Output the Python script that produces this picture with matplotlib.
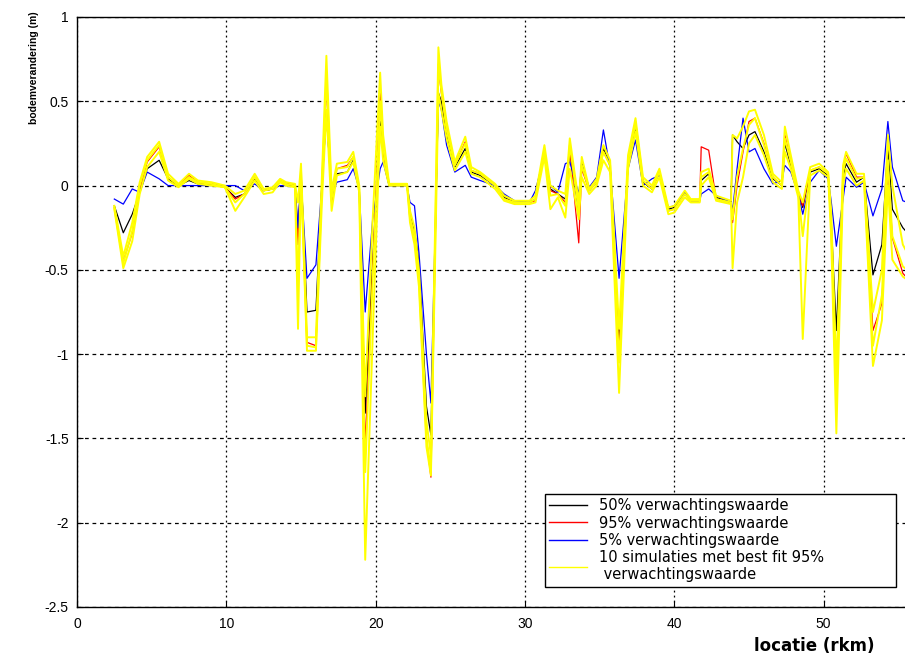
import matplotlib
matplotlib.use("Agg")
import matplotlib.pyplot as plt
from matplotlib.lines import Line2D

plt.rcParams['font.family'] = ['Liberation Sans', 'DejaVu Sans']

# river location (km)
rkm = [2.5, 3.1, 3.7, 4.2, 4.7, 5.5, 6.1, 6.8, 7.5, 8.1,
       9.0, 9.9, 10.6, 11.2, 11.9, 12.5, 13.1, 13.6, 14.0, 14.6,
       14.8, 15.0, 15.4, 16.0, 16.4, 16.7, 17.05, 17.4, 18.1, 18.5,
       18.9, 19.3, 19.8, 20.3, 20.5, 20.9, 22.1, 22.3, 22.6, 22.9,
       23.4, 23.7, 24.2, 24.4, 24.75, 25.3, 26.0, 26.4, 27.0, 28.0,
       28.6, 29.3, 30.3, 30.7, 31.3, 31.7, 32.2, 32.7, 33.0, 33.6,
       33.8, 34.3, 34.8, 35.25, 35.7, 36.3, 36.9, 37.4, 37.9, 38.5,
       39.0, 39.6, 40.0, 40.7, 41.1, 41.7, 41.8, 42.3, 42.8, 43.8,
       43.9, 44.2, 44.6, 45.0, 45.4, 46.0, 46.6, 47.2, 47.4, 47.8,
       48.3, 48.6, 49.1, 49.7, 50.3, 50.5, 50.85, 51.3, 51.5, 52.2,
       52.7, 53.3, 53.9, 54.3, 54.6, 55.3, 55.6]

# bed level change (m), 50% expectation
p50 = [-0.12, -0.28, -0.17, -0.04, 0.10, 0.15, 0.04, 0.00, 0.03, 0.01,
       0.01, -0.01, -0.07, -0.05, 0.04, -0.03, -0.02, 0.03, 0.01, 0.00,
       -0.30, 0.08, -0.75, -0.74, 0.00, 0.43, -0.05, 0.07, 0.08, 0.15,
       -0.02, -1.35, -0.45, 0.38, 0.20, 0.00, 0.00, -0.16, -0.27, -0.45,
       -1.31, -1.48, 0.55, 0.50, 0.30, 0.11, 0.22, 0.08, 0.06, 0.00,
       -0.07, -0.10, -0.10, -0.08, 0.20, -0.02, -0.05, -0.08, 0.20, -0.15,
       0.15, -0.03, 0.02, 0.22, 0.12, -0.93, 0.14, 0.35, 0.02, -0.02,
       0.08, -0.14, -0.13, -0.05, -0.09, -0.09, 0.03, 0.07, -0.07, -0.10,
       0.30, 0.26, 0.22, 0.30, 0.32, 0.20, 0.04, 0.00, 0.25, 0.12,
       -0.04, -0.13, 0.08, 0.10, 0.06, -0.20, -0.86, 0.05, 0.13, 0.02,
       0.05, -0.53, -0.35, 0.24, -0.14, -0.25, -0.28]

# 95% expectation
p95 = [-0.13, -0.45, -0.28, -0.02, 0.14, 0.23, 0.05, 0.00, 0.06, 0.02,
       0.01, -0.01, -0.08, -0.05, 0.05, -0.03, -0.02, 0.03, 0.015, 0.00,
       -0.35, 0.10, -0.93, -0.95, 0.02, 0.60, -0.10, 0.10, 0.12, 0.17,
       -0.02, -1.55, -0.50, 0.55, 0.20, 0.01, 0.01, -0.20, -0.30, -0.55,
       -1.50, -1.73, 0.70, 0.55, 0.34, 0.12, 0.26, 0.09, 0.07, 0.00,
       -0.08, -0.10, -0.10, -0.09, 0.22, -0.03, -0.05, -0.10, 0.22, -0.34,
       0.10, -0.03, 0.02, 0.20, 0.12, -1.00, 0.15, 0.38, 0.03, -0.02,
       0.08, -0.15, -0.14, -0.05, -0.09, -0.09, 0.23, 0.21, -0.08, -0.10,
       -0.22, 0.00, 0.20, 0.38, 0.40, 0.25, 0.05, 0.00, 0.30, 0.14,
       -0.05, -0.12, 0.09, 0.11, 0.07, -0.25, -1.30, 0.10, 0.19, 0.05,
       0.05, -0.86, -0.70, 0.11, -0.31, -0.52, -0.55]

# 5% expectation
p05 = [-0.08, -0.11, -0.02, -0.04, 0.08, 0.04, 0.00, 0.00, 0.00, 0.00,
       0.00, 0.00, 0.00, -0.03, 0.01, -0.03, -0.02, 0.00, 0.00, 0.00,
       -0.25, 0.04, -0.55, -0.47, 0.00, 0.43, -0.06, 0.02, 0.035, 0.10,
       -0.02, -0.75, -0.20, 0.10, 0.14, 0.00, 0.00, -0.10, -0.12, -0.40,
       -1.00, -1.29, 0.50, 0.45, 0.24, 0.08, 0.12, 0.05, 0.03, 0.00,
       -0.05, -0.09, -0.10, -0.03, 0.18, 0.00, -0.04, 0.13, 0.14, -0.05,
       0.12, -0.01, 0.05, 0.33, 0.10, -0.55, 0.10, 0.27, 0.00, 0.04,
       0.06, -0.13, -0.12, -0.04, -0.09, -0.09, -0.05, -0.02, -0.06, -0.10,
       -0.15, 0.10, 0.40, 0.20, 0.22, 0.10, 0.01, 0.03, 0.12, 0.08,
       -0.05, -0.17, 0.02, 0.09, 0.04, -0.09, -0.36, -0.08, 0.05, -0.01,
       0.02, -0.18, -0.02, 0.38, 0.11, -0.09, -0.10]

# simulations with best fit to the 95% expectation
sim_low = [-0.14, -0.49, -0.33, -0.05, 0.11, 0.20, 0.03, -0.01, 0.04, 0.01,
           0.00, -0.01, -0.15, -0.07, 0.03, -0.05, -0.04, 0.02, 0.00, -0.01,
           -0.85, 0.05, -0.98, -0.98, -0.10, 0.45, -0.15, 0.06, 0.08, 0.14,
           -0.04, -2.22, -0.90, 0.35, 0.15, 0.00, 0.00, -0.22, -0.35, -0.60,
           -1.55, -1.72, 0.55, 0.45, 0.28, 0.09, 0.20, 0.07, 0.05, -0.02,
           -0.09, -0.11, -0.11, -0.10, 0.17, -0.14, -0.07, -0.19, 0.10, -0.20,
           0.05, -0.05, 0.00, 0.15, 0.08, -1.23, 0.10, 0.32, 0.00, -0.04,
           0.05, -0.17, -0.16, -0.07, -0.10, -0.10, 0.00, 0.05, -0.09, -0.11,
           -0.49, -0.10, 0.05, 0.25, 0.30, 0.18, 0.02, -0.02, 0.20, 0.10,
           -0.07, -0.91, 0.06, 0.09, 0.05, -0.30, -1.47, 0.00, 0.10, 0.00,
           0.03, -1.07, -0.80, 0.00, -0.44, -0.54, -0.56]

sim_mid = [-0.13, -0.46, -0.27, 0.00, 0.15, 0.24, 0.05, 0.00, 0.05, 0.02,
           0.01, -0.01, -0.10, -0.05, 0.05, -0.03, -0.02, 0.03, 0.01, 0.00,
           -0.60, 0.09, -0.95, -0.96, 0.00, 0.65, -0.08, 0.10, 0.11, 0.17,
           -0.02, -1.70, -0.55, 0.50, 0.22, 0.01, 0.01, -0.19, -0.30, -0.56,
           -1.50, -1.68, 0.72, 0.56, 0.33, 0.12, 0.25, 0.09, 0.07, 0.00,
           -0.08, -0.10, -0.10, -0.08, 0.21, -0.06, -0.05, -0.12, 0.24, -0.15,
           0.12, -0.03, 0.02, 0.20, 0.12, -1.05, 0.14, 0.37, 0.03, -0.02,
           0.08, -0.15, -0.14, -0.05, -0.09, -0.09, 0.05, 0.08, -0.08, -0.10,
           -0.20, 0.05, 0.22, 0.36, 0.40, 0.24, 0.05, 0.00, 0.28, 0.14,
           -0.05, -0.30, 0.09, 0.11, 0.07, -0.22, -1.25, 0.08, 0.16, 0.04,
           0.05, -0.95, -0.65, 0.15, -0.30, -0.48, -0.50]

sim_high = [-0.12, -0.42, -0.22, 0.02, 0.17, 0.26, 0.07, 0.01, 0.07, 0.03,
            0.02, 0.00, -0.05, -0.03, 0.07, -0.02, -0.01, 0.04, 0.02, 0.01,
            -0.10, 0.13, -0.90, -0.90, 0.05, 0.77, -0.03, 0.13, 0.14, 0.20,
            0.00, -1.25, -0.20, 0.67, 0.30, 0.01, 0.01, -0.15, -0.25, -0.50,
            -1.40, -1.60, 0.82, 0.60, 0.38, 0.14, 0.29, 0.11, 0.08, 0.01,
            -0.06, -0.09, -0.09, -0.06, 0.24, 0.00, -0.03, -0.05, 0.28, -0.10,
            0.17, -0.02, 0.04, 0.24, 0.15, -0.85, 0.18, 0.40, 0.05, 0.00,
            0.10, -0.13, -0.12, -0.03, -0.08, -0.08, 0.08, 0.10, -0.06, -0.09,
            0.30, 0.28, 0.35, 0.44, 0.45, 0.30, 0.07, 0.02, 0.35, 0.18,
            -0.03, -0.10, 0.11, 0.13, 0.08, -0.15, -1.10, 0.12, 0.20, 0.07,
            0.07, -0.75, -0.50, 0.30, 0.00, -0.35, -0.40]

sims = [sim_low, sim_mid, sim_high]

labels = ['50% verwachtingswaarde',
          '95% verwachtingswaarde',
          '5% verwachtingswaarde',
          '10 simulaties met best fit 95%\n verwachtingswaarde']

xticks = [0, 10, 20, 30, 40, 50]
yticks = [-2.5, -2, -1.5, -1, -0.5, 0, 0.5, 1]

fig = plt.figure(figsize=(9.05, 6.55), dpi=100)
# axes run to 60 km; the right part falls outside the figure
ax = fig.add_axes([77 / 905, 48 / 655, 896 / 905, 590 / 655])

ax.plot(rkm, p50, color='black', lw=0.9, zorder=3)
ax.plot(rkm, p95, color='red', lw=0.9, zorder=3)
ax.plot(rkm, p05, color='blue', lw=0.9, zorder=3)
for s in sims:
    ax.plot(rkm, s, color='yellow', lw=1.4, zorder=4)

ax.set_xlim(0, 60)
ax.set_ylim(-2.5, 1)
ax.set_xticks(xticks)
ax.set_yticks(yticks)
ax.set_yticklabels(['%g' % v for v in yticks])
ax.tick_params(direction='in', length=4, labelsize=10, colors='black')
ax.tick_params(axis='x', pad=7)
ax.tick_params(axis='y', pad=6)
ax.xaxis.grid(True, color='black', linestyle=(0, (1.5, 2.5)), lw=0.9)
ax.yaxis.grid(True, color='black', linestyle=(0, (3, 3)), lw=0.9)
ax.set_axisbelow(True)
for sp in ax.spines.values():
    sp.set_linewidth(1.0)

fig.text(34 / 905, 1 - 68 / 655, 'bodemverandering (m)', rotation=90,
         ha='center', va='center', fontsize=7.5, fontweight='bold')
fig.text(814 / 905, 1 - 646 / 655, 'locatie (rkm)', ha='center',
         va='center', fontsize=12, fontweight='bold', family='DejaVu Sans')

handles = [Line2D([], [], color=c, lw=1) for c in ['black', 'red', 'blue', 'yellow']]
leg = ax.legend(handles, labels, loc='upper left', mode='expand',
                bbox_to_anchor=(545 / 905, 1 - 587 / 655, 351 / 905, 93 / 655),
                bbox_transform=fig.transFigure,
                prop={'family': 'DejaVu Sans', 'size': 10.5},
                fancybox=False, framealpha=1, edgecolor='black',
                handlelength=2.6, handletextpad=0.8, labelspacing=0.15,
                borderpad=0.3, borderaxespad=0)
leg.get_frame().set_linewidth(1.0)

fig.savefig('out.png', dpi=100)
